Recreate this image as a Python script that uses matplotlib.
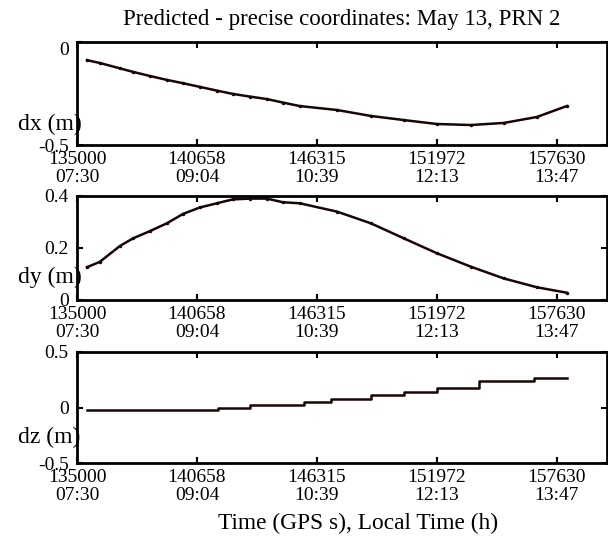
import matplotlib
matplotlib.use("Agg")
import matplotlib.pyplot as plt

# GPS seconds / predicted - precise differences (m)
t_xy = [135470, 136080, 137030, 137640, 138440, 139240, 140000, 140800,
        141600, 142350, 143160, 143960, 144710, 145510, 147260, 148860,
        150420, 151970, 153580, 155130, 156690, 158100]
dx = [-0.088, -0.102, -0.128, -0.145, -0.165, -0.184, -0.200, -0.218,
      -0.236, -0.252, -0.265, -0.277, -0.294, -0.311, -0.330, -0.359,
      -0.379, -0.398, -0.403, -0.393, -0.364, -0.311]
dy = [0.126, 0.147, 0.208, 0.237, 0.265, 0.295, 0.331, 0.356,
      0.372, 0.387, 0.390, 0.390, 0.376, 0.372, 0.340, 0.295,
      0.237, 0.180, 0.128, 0.083, 0.049, 0.028]

t_z = [135470, 141650, 143160, 145700, 146980, 148860, 150420, 151970,
       153950, 156550, 158100]
dz = [-0.027, -0.006, 0.022, 0.054, 0.081, 0.113, 0.144, 0.180,
      0.237, 0.267, 0.267]

xticks = [135000, 140657.5, 146315, 151972.5, 157630]
xticklabels = ["135000\n07:30", "140658\n09:04", "146315\n10:39",
               "151972\n12:13", "157630\n13:47"]

plt.rcParams['font.family'] = ['Liberation Serif', 'DejaVu Serif']
col = '#1a0505'

fig = plt.figure(figsize=(6.08, 5.39), dpi=100)
W, H = 608.0, 539.0


def box(top, bottom):
    return [77 / W, 1 - bottom / H, (607 - 77) / W, (bottom - top) / H]


panels = [
    (box(42, 145), t_xy, dx, (-0.5, 0), [-0.5, 0], ["-0.5", "0"], "dx (m)", 124, None),
    (box(196, 300), t_xy, dy, (0, 0.4), [0, 0.2, 0.4], ["0", "0.2", "0.4"], "dy (m)", 277, None),
    (box(352, 463), t_z, dz, (-0.5, 0.5), [-0.5, 0, 0.5], ["-0.5", "0", "0.5"], "dz (m)", 437, 'steps-post'),
]

axes = []
for rect, t, v, ylim, yt, ytl, lab, ly, ds in panels:
    ax = fig.add_axes(rect)
    if ds:
        ax.plot(t, v, color=col, lw=1.8, drawstyle=ds)
    else:
        ax.plot(t, v, color=col, lw=1.8, marker='.', ms=3)
    ax.set_xlim(135000, 160000)
    ax.set_ylim(*ylim)
    ax.set_xticks(xticks)
    ax.set_xticklabels(xticklabels, fontsize=14, linespacing=1.12)
    ax.set_yticks(yt)
    ax.set_yticklabels(ytl, fontsize=14)
    ax.tick_params(direction='in', length=4, width=1.5, top=True, right=True, pad=4)
    ax.tick_params(axis='y', pad=6)
    for s in ax.spines.values():
        s.set_linewidth(2)
    fig.text(18 / W, 1 - ly / H, lab, fontsize=17, ha='left', va='center')
    axes.append(ax)

# top "0" label sits just below the top spine
axes[0].get_yticklabels()[-1].set_va('top')

fig.text(342 / W, 1 - 20 / H, "Predicted - precise coordinates: May 13, PRN 2",
         fontsize=16.5, ha='center', va='center')
fig.text(358 / W, 1 - 523 / H, "Time (GPS s), Local Time (h)",
         fontsize=16.8, ha='center', va='center')

fig.savefig("out.png", dpi=100)
